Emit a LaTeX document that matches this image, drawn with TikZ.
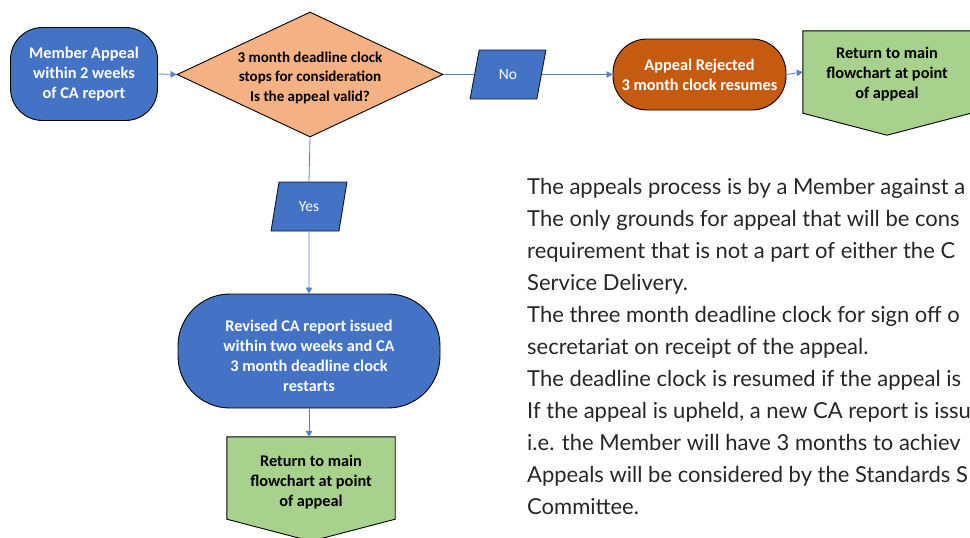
\documentclass[tikz,border=0pt]{standalone}
\usepackage{fontspec}
\setmainfont{Carlito}
\newfontfamily\parafont{Lato}
\usetikzlibrary{shapes.geometric,arrows.meta,calc}
\definecolor{cblue}{HTML}{4472C4}
\definecolor{cpeach}{HTML}{F4B183}
\definecolor{corange}{HTML}{C55A11}
\definecolor{cgreen}{HTML}{A9D18E}
\definecolor{cline}{HTML}{5580CC}
\tikzset{
  boxtext/.style={font=\fontsize{16.3}{20}\selectfont\bfseries, align=center},
  term/.style={draw=black, line width=0.9pt, boxtext, text=white, inner sep=0pt},
  para/.style={trapezium, trapezium left angle=74, trapezium right angle=106, trapezium stretches=true,
     draw=black!80!cblue, line width=0.9pt, fill=cblue, text=white, inner sep=0pt,
     font=\fontsize{15.5}{20}\selectfont},
  offpage/.style={draw=none, minimum width=168pt, minimum height=82pt, inner sep=0pt, boxtext, text=black},
  conn/.style={draw=cline, line width=0.8pt},
  arr/.style={conn, -{Triangle[length=6pt,width=6.5pt]}},
}
\begin{document}
\begin{tikzpicture}[x=1pt,y=-1pt]
\useasboundingbox (0,0) rectangle (970,538);
\clip (0,0) rectangle (970,538);

% Member appeal
\node[term, fill=cblue, minimum width=147pt, minimum height=93pt, rounded corners=32pt] (member) at (84,74)
  {Member Appeal\\within 2 weeks\\of CA report};

% Diamond
\node[diamond, draw=black, line width=0.9pt, fill=cpeach, minimum width=266pt, minimum height=125pt, inner sep=0pt,
  label={[boxtext, font=\fontsize{15}{19.5}\selectfont\bfseries, text=black, yshift=-3pt]center:3 month deadline clock\\stops for consideration\\Is the appeal valid?}] (dec) at (310,74.5) {};

% No
\node[para, minimum width=76pt, minimum height=49pt] (no) at (508,74.5) {No};

% Appeal rejected
\node[term, fill=corange, minimum width=173pt, minimum height=71pt, rounded corners=34pt] (rej) at (699.5,74.5)
  {Appeal Rejected\\3 month clock resumes};

% Return top
\node[offpage] (ret1) at (887,72) {};
\draw[fill=cgreen, line width=0.9pt] (ret1.north west) -- (ret1.north east) -- (ret1.south east)
  -- ($(ret1.south)+(0,22)$) -- (ret1.south west) -- cycle;
\node[boxtext] at ($(ret1)+(0,2)$) {Return to main\\flowchart at point\\of appeal};

% Yes
\node[para, minimum width=76pt, minimum height=49pt, trapezium left angle=75, trapezium right angle=105] (yes) at (309,206.5) {Yes};

% Revised
\node[term, fill=cblue, minimum width=262pt, minimum height=114pt, rounded corners=52pt,
  label={[boxtext, text=white, yshift=-5pt]center:Revised CA report issued\\within two weeks and CA\\3 month deadline clock\\restarts}] (rev) at (309,351) {};

% Return bottom
\node[offpage] (ret2) at (311,478) {};
\draw[fill=cgreen, line width=0.9pt] (ret2.north west) -- (ret2.north east) -- (ret2.south east)
  -- ($(ret2.south)+(0,22)$) -- (ret2.south west) -- cycle;
\node[boxtext] at ($(ret2)+(0,4)$) {Return to main\\flowchart at point\\of appeal};

% connectors
\draw[arr] (member.east) -- (dec.west);
\draw[conn] (dec.east) -- (no.west);
\draw[arr] (no.east) -- (rej.west);
\draw[arr] (rej.east) -- (ret1.west);
\draw[conn] (dec.south) -- (yes.north);
\draw[arr] (yes.south) -- (rev.north);
\draw[arr] (rev.south) -- (rev.south |- ret2.north);

% paragraph
\node[anchor=north west, align=left, inner sep=0pt, text=black!85, font=\parafont\fontsize{22}{32}\selectfont] (txt) at (527,178)
{The appeals process is by a Member against a\\
The only grounds for appeal that will be cons\\
requirement that is not a part of either the C\\
Service Delivery.\\
The three month deadline clock for sign off o\\
secretariat on receipt of the appeal.\\
The deadline clock is resumed if the appeal is\\
If the appeal is upheld, a new CA report is issu\\
i.e. the Member will have 3 months to achiev\\
Appeals will be considered by the Standards S\\
Committee.};
\end{tikzpicture}
\end{document}
